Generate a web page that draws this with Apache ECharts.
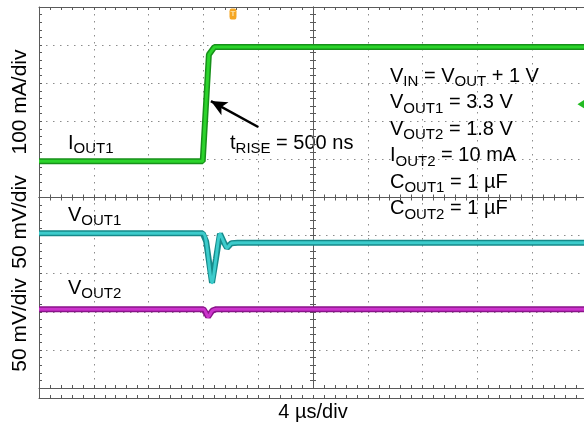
<!DOCTYPE html>
<html>
<head>
<meta charset="utf-8">
<script src="https://cdn.jsdelivr.net/npm/echarts@6/dist/echarts.min.js"></script>
<style>
  html, body { margin: 0; padding: 0; background: #fff; }
  #chart { width: 584px; height: 423px; }
</style>
</head>
<body>
<div id="chart"></div>
<script>
// time in µs (4 µs/div), trace levels in screen divisions (centre = 0)
const timeRange = [-20, 20]
const divRange = [-5, 5]

const ioutTime = [-20, -8.05, -7.6, -7.2, 20]
const ioutDiv = [0.95, 0.95, 3.75, 3.95, 3.95]

const vout1Time = [-20, -8.05, -7.8, -7.37, -7.08, -6.79, -6.5, -6.28, -5.95, -5.5, 20]
const vout1Div = [-0.94, -0.94, -1.15, -2.24, -1.6, -0.95, -1.18, -1.32, -1.2, -1.19, -1.19]

const vout2Time = [-20, -8.0, -7.66, -7.35, -7.05, 20]
const vout2Div = [-2.93, -2.93, -3.13, -2.97, -2.93, -2.93]

const triggerTime = -5.84
const ch1Level = 2.45
const arrowTail = [-4.0, 1.85]
const arrowTip = [-7.45, 2.53]

const axisTitles = ['100 mA/div', '50 mV/div', '50 mV/div']
const axisTitleY = [102, 222, 325]

const conditions = [
  '{m|V}{s|IN}{m| = V}{s|OUT}{m| + 1 V}',
  '{m|V}{s|OUT1}{m| = 3.3 V}',
  '{m|V}{s|OUT2}{m| = 1.8 V}',
  '{m|I}{s|OUT2}{m| = 10 mA}',
  '{m|C}{s|OUT1}{m| = 1 µF}',
  '{m|C}{s|OUT2}{m| = 1 µF}'
]

const font = 'Liberation Sans, Arial, sans-serif'
const frameColor = '#5a5a5a'
const box = { left: 39, top: 7, width: 548, height: 381 }

const rich = {
  m: { fontSize: 20, lineHeight: 22, fontFamily: font, color: '#000' },
  s: { fontSize: 15, lineHeight: 10, height: 10, verticalAlign: 'bottom', fontFamily: font, color: '#000' }
}

function pairs(xs, ys) {
  return xs.map((x, i) => [x, ys[i]])
}

function xAxisOf(gridIndex, extra) {
  return Object.assign({
    type: 'value',
    gridIndex,
    min: timeRange[0],
    max: timeRange[1],
    interval: 4,
    axisLabel: { show: false },
    axisLine: { onZero: false, lineStyle: { color: frameColor, width: 1 } },
    axisTick: { inside: true, length: 3, lineStyle: { color: frameColor } },
    minorTick: { show: true, splitNumber: 5, length: 3, lineStyle: { color: frameColor } },
    splitLine: { show: false }
  }, extra)
}

function yAxisOf(gridIndex, extra) {
  return Object.assign({
    type: 'value',
    gridIndex,
    min: divRange[0],
    max: divRange[1],
    interval: 1,
    axisLabel: { show: false },
    axisLine: { onZero: false, lineStyle: { color: frameColor, width: 1 } },
    axisTick: { inside: true, length: 3, lineStyle: { color: frameColor } },
    minorTick: { show: true, splitNumber: 5, length: 3, lineStyle: { color: frameColor } },
    splitLine: { show: false }
  }, extra)
}

const dotted = { show: true, lineStyle: { color: '#8c8c8c', type: [1.5, 5.5], width: 1 } }

function trace(name, data, edge, core, extra) {
  return [
    {
      name: name + '-edge', type: 'line', data, xAxisIndex: 0, yAxisIndex: 0,
      showSymbol: false, silent: true, lineStyle: { color: edge, width: 6 }, z: 3
    },
    Object.assign({
      name, type: 'line', data, xAxisIndex: 0, yAxisIndex: 0,
      showSymbol: false, silent: true, lineStyle: { color: core, width: 3 }, z: 4
    }, extra || {})
  ]
}

const chart = echarts.init(document.getElementById('chart'), null, { renderer: 'canvas' })

chart.setOption({
  animation: false,
  backgroundColor: '#fff',
  grid: [0, 1, 2].map(() => Object.assign({ containLabel: false, outerBoundsMode: 'none' }, box)),
  xAxis: [
    xAxisOf(0, { position: 'bottom', splitLine: dotted }),
    xAxisOf(0, {
      position: 'bottom', offset: 10,
      name: '4 µs/div', nameLocation: 'middle', nameGap: 4,
      nameTextStyle: { fontSize: 20, fontFamily: font, color: '#000' }
    }),
    xAxisOf(0, { position: 'top' }),
    xAxisOf(1, { axisLine: { onZero: true, lineStyle: { color: frameColor } }, axisTick: { inside: true, length: 3, lineStyle: { color: frameColor } } }),
    xAxisOf(2, { axisLine: { onZero: true, lineStyle: { color: frameColor } }, axisTick: { inside: false, length: 3, lineStyle: { color: frameColor } } })
  ],
  yAxis: [
    yAxisOf(0, { position: 'left', splitLine: dotted }),
    yAxisOf(1, { axisLine: { onZero: true, lineStyle: { color: frameColor } }, axisTick: { inside: true, length: 3, lineStyle: { color: frameColor } } }),
    yAxisOf(2, { axisLine: { onZero: true, lineStyle: { color: frameColor } }, axisTick: { inside: false, length: 3, lineStyle: { color: frameColor } } })
  ],
  series: [
    ...trace('IOUT1', pairs(ioutTime, ioutDiv), '#17901a', '#2bd42b', {
      markLine: {
        silent: true,
        symbolSize: [11, 16],
        label: { show: false },
        lineStyle: { color: '#000', width: 2.5, type: 'solid' },
        data: [[
          { coord: arrowTail, symbol: 'none' },
          { coord: arrowTip, symbol: 'arrow' }
        ]]
      },
      markPoint: {
        silent: true,
        data: [
          {
            coord: [triggerTime, divRange[1]], symbol: 'roundRect', symbolSize: [7, 11],
            symbolOffset: [0, 7], itemStyle: { color: '#f5a623' },
            label: { show: true, formatter: 'T', fontSize: 8, color: '#fde2a8', fontWeight: 'bold' }
          },
          {
            coord: [19.56, ch1Level], symbol: 'triangle', symbolSize: [9, 7],
            symbolRotate: 90, itemStyle: { color: '#22bb22' }, label: { show: false }
          }
        ]
      }
    }),
    ...trace('VOUT1', pairs(vout1Time, vout1Div), '#168a8a', '#3ccccc', { smooth: 0.25 }),
    ...trace('VOUT2', pairs(vout2Time, vout2Div), '#8a138a', '#cc33cc', { smooth: 0.25 })
  ],
  graphic: [
    { type: 'line', shape: { x1: 39.5, y1: 388, x2: 39.5, y2: 398 }, style: { stroke: frameColor, lineWidth: 1 } },
    ...axisTitles.map((t, i) => ({
      type: 'text', x: 20, y: axisTitleY[i], rotation: Math.PI / 2,
      style: { text: t, fontSize: 21, fontFamily: font, fill: '#000', align: 'center', verticalAlign: 'middle' }
    })),
    ...conditions.map((t, i) => ({
      type: 'text', x: 390, y: 65 + i * 26.5,
      style: { text: t, rich, align: 'left', verticalAlign: 'top' }
    })),
    { type: 'text', x: 68, y: 132, style: { text: '{m|I}{s|OUT1}', rich, verticalAlign: 'top' } },
    { type: 'text', x: 230, y: 132, style: { text: '{m|t}{s|RISE}{m| = 500 ns}', rich, verticalAlign: 'top' } },
    { type: 'text', x: 68, y: 204, style: { text: '{m|V}{s|OUT1}', rich, verticalAlign: 'top' } },
    { type: 'text', x: 68, y: 277, style: { text: '{m|V}{s|OUT2}', rich, verticalAlign: 'top' } }
  ]
})
</script>
</body>
</html>
